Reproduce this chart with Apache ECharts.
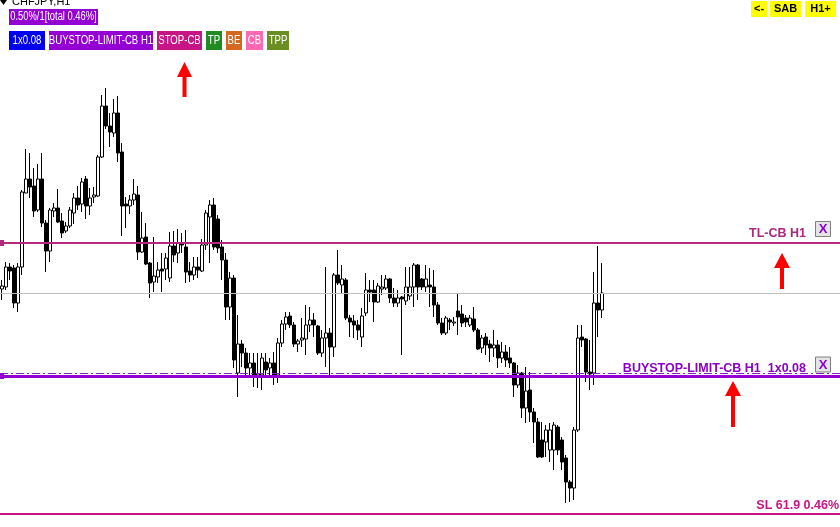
<!DOCTYPE html>
<html><head><meta charset="utf-8">
<script src="https://cdn.jsdelivr.net/npm/echarts@6/dist/echarts.min.js"></script>
<style>html,body{margin:0;padding:0;background:#fff;overflow:hidden}#c{width:840px;height:527px;}</style>
</head><body><div id="c"></div>
<script>
const symbolTitle = 'CHFJPY,H1';
const riskLabel = '0.50%/1[total 0.46%]';
const buttons = [
  {text:'1x0.08', color:'#0000f0'},
  {text:'BUYSTOP-LIMIT-CB H1', color:'#9400d3'},
  {text:'STOP-CB', color:'#c71585'},
  {text:'TP', color:'#228b22'},
  {text:'BE', color:'#d2691e'},
  {text:'CB', color:'#ff69b4'},
  {text:'TPP', color:'#6b8e23'}
];
const navButtons = ['<-', 'SAB', 'H1+'];

const openP = [
163.11,163.13,163.33,163.32,162.97,163.33,164.07,164.21,164.14,163.90,
164.21,163.77,163.49,163.89,163.92,163.79,163.69,163.74,163.87,164.02,
163.96,164.21,163.94,164.03,164.04,164.43,164.94,164.74,164.67,164.87,
164.48,163.96,163.94,164.00,164.05,163.48,163.63,163.37,163.18,163.23,
163.31,163.31,163.22,163.54,163.47,163.57,163.53,163.29,163.25,163.33,
163.29,163.55,163.83,163.95,163.81,163.53,163.40,162.93,163.22,162.27,
162.56,162.47,162.32,162.37,162.23,162.25,162.38,162.32,162.37,162.25,
162.57,162.76,162.84,162.75,162.56,162.60,162.61,162.75,162.80,162.74,
162.47,162.62,162.67,162.53,163.25,163.15,163.20,162.82,162.79,162.75,
162.63,162.87,163.10,163.10,162.98,163.11,163.12,163.21,163.02,162.97,
163.03,162.99,163.04,163.13,163.35,163.21,163.13,163.15,163.13,162.95,
162.77,162.67,162.80,162.77,162.89,162.86,162.82,162.75,162.81,162.70,
162.52,162.63,162.56,162.52,162.55,162.42,162.48,162.42,162.37,162.15,
162.27,161.92,162.10,161.88,161.78,161.60,161.58,161.50,161.50,161.73,
161.60,161.42,161.18,161.12,161.70,162.63,162.61,162.28,162.27,162.97,162.90];
const closeP = [
163.14,163.33,163.29,162.97,163.33,164.08,164.21,164.13,163.89,164.21,
163.77,163.49,163.90,163.92,163.78,163.67,163.74,163.90,164.02,163.95,
164.18,163.94,164.02,164.05,164.43,164.94,164.74,164.68,164.87,164.47,
163.94,163.94,164.00,164.06,163.48,163.62,163.36,163.17,163.24,163.30,
163.29,163.42,163.54,163.45,163.57,163.55,163.28,163.25,163.33,163.30,
163.55,163.87,163.95,163.53,163.52,163.40,162.93,163.22,162.40,162.56,
162.47,162.32,162.37,162.23,162.26,162.42,162.30,162.37,162.25,162.57,
162.76,162.83,162.75,162.56,162.59,162.62,162.75,162.80,162.75,162.47,
162.62,162.67,162.53,163.25,163.17,163.21,162.82,162.78,162.75,162.70,
162.84,163.10,163.08,162.98,163.14,163.13,163.21,163.02,162.97,163.02,
163.01,163.13,163.13,163.35,163.13,163.13,163.21,163.13,162.95,162.77,
162.67,162.82,162.78,162.78,162.83,162.77,162.78,162.82,162.70,162.51,
162.62,162.55,162.52,162.55,162.42,162.48,162.40,162.37,162.15,162.27,
161.92,162.09,161.88,161.78,161.43,161.43,161.70,161.70,161.75,161.50,
161.38,161.18,161.12,161.70,162.62,162.60,162.28,162.26,162.97,162.90,163.07];
const lowP = [
163.00,163.10,163.20,162.92,162.88,163.25,164.07,164.02,163.83,163.88,
163.73,163.28,163.38,163.83,163.77,163.62,163.67,163.72,163.76,163.90,
163.88,163.81,163.85,163.97,164.03,164.42,164.71,164.53,164.63,164.38,
163.64,163.72,163.86,163.95,163.40,163.47,163.35,163.02,163.08,163.17,
163.08,163.20,163.18,163.38,163.37,163.47,163.17,163.18,163.20,163.22,
163.28,163.50,163.37,163.50,163.47,163.20,162.80,162.80,162.32,162.03,
162.33,162.23,162.22,162.13,162.12,162.10,162.23,162.22,162.15,162.17,
162.53,162.70,162.72,162.53,162.48,162.53,162.45,162.68,162.63,162.45,
162.43,162.33,162.25,162.43,163.15,163.07,162.80,162.63,162.62,162.60,
162.53,162.84,162.98,162.78,162.97,163.05,163.10,162.97,162.93,162.93,
162.45,162.95,163.00,162.93,163.00,163.10,163.08,162.93,162.83,162.75,
162.65,162.65,162.70,162.74,162.65,162.73,162.73,162.73,162.68,162.50,
162.47,162.45,162.38,162.43,162.32,162.37,162.33,162.32,162.03,162.12,
161.82,161.77,161.78,161.57,161.42,161.42,161.43,161.38,161.30,161.45,
161.30,160.97,160.98,161.00,161.68,162.53,162.18,162.10,162.15,162.63,162.82];
const highP = [
163.20,163.38,163.37,163.35,163.37,164.10,164.51,164.47,164.32,164.36,
164.47,163.80,163.92,163.97,164.11,163.87,163.78,163.93,164.07,164.14,
164.22,164.24,164.12,164.13,164.45,165.05,165.12,164.87,165.01,165.04,
164.57,164.03,164.05,164.21,164.14,163.88,163.77,163.38,163.63,163.38,
163.47,163.47,163.68,163.69,163.71,163.67,163.70,163.38,163.43,163.43,
163.61,163.90,164.00,164.02,163.85,163.60,163.47,163.28,163.25,162.85,
162.60,162.52,162.47,162.47,162.47,162.47,162.47,162.42,162.48,162.62,
162.80,162.88,162.88,162.78,162.61,162.82,162.95,162.93,162.87,162.75,
162.70,163.33,162.72,163.27,163.50,163.35,163.22,162.85,162.85,162.80,
162.92,163.27,163.20,163.20,163.17,163.25,163.25,163.22,163.12,163.10,
163.04,163.33,163.33,163.37,163.36,163.22,163.35,163.32,163.30,162.98,
162.82,162.84,162.82,162.83,163.07,162.95,162.85,162.85,162.93,162.72,
162.65,162.67,162.60,162.70,162.60,162.58,162.55,162.53,162.38,162.35,
162.28,162.33,162.28,161.92,161.82,161.78,161.75,161.77,161.78,161.75,
161.63,161.45,161.20,161.73,162.75,162.75,162.62,162.60,163.28,163.54,163.37];

const slotCount = 210;
const levelTL = 163.57, levelBid = 163.07, levelPending = 162.27, levelBuyStop = 162.24, levelSL = 160.86;
const priceMin = 160.73, priceMax = 166.00;

const chart = echarts.init(document.getElementById('c'), null, {renderer:'canvas'});
const categories = [];
for (let i = 0; i < slotCount; i++) categories.push('H' + i);

chart.setOption({
  animation:false,
  backgroundColor:'#ffffff',
  grid:{left:0,right:0,top:0,bottom:0},
  xAxis:{type:'category', data:categories, boundaryGap:true, show:false},
  yAxis:{type:'value', min:priceMin, max:priceMax, show:false, splitLine:{show:false}},
  series:[{
    type:'candlestick',
    data: openP.map((o,i)=>[o, closeP[i], lowP[i], highP[i]]),
    barWidth:3,
    itemStyle:{color:'#ffffff', color0:'#000000', borderColor:'#000000', borderColor0:'#000000', borderColorDoji:'#000000', borderWidth:1},
    emphasis:{disabled:true},
    markLine:{silent:true, symbol:['none','none'], animation:false, label:{show:false},
      emphasis:{disabled:true},
      data:[
        {yAxis:levelBid, lineStyle:{color:'#c0c0c0', width:1, type:'solid'}},
        {yAxis:levelTL, lineStyle:{color:'#b4287e', width:2, type:'solid'}},
        {yAxis:levelPending, lineStyle:{color:'#8a1fc4', width:1, type:[8,3,2,3]}},
        {yAxis:levelBuyStop, lineStyle:{color:'#9400d3', width:3, type:'solid'}},
        {yAxis:levelSL, lineStyle:{color:'#c71585', width:2, type:'solid'}}
      ]}
  }]
});

const py = v => chart.convertToPixel({yAxisIndex:0}, v);
const g = [];
function label(x, y, text, fill, font, align, sx){
  g.push({type:'text', x:x, y:y, scaleX:sx||1, z:10,
    style:{text:text, fill:fill, font:font, align:align, textAlign:align, verticalAlign:'middle', textVerticalAlign:'middle'}});
}
function btn(x, y, w, h, bg, text, fg, font, sx){
  g.push({type:'rect', shape:{x:x,y:y,width:w,height:h}, style:{fill:bg}, z:9});
  label(x + w/2, y + h/2, text, fg, font, 'center', sx);
}
function arrow(cx, tipY, baseY, bottomY, headW, shaftW){
  g.push({type:'polygon', shape:{points:[[cx,tipY],[cx+headW/2,baseY],[cx-headW/2,baseY]]}, style:{fill:'#ff0000'}, z:9});
  g.push({type:'rect', shape:{x:cx-shaftW/2, y:baseY-1, width:shaftW, height:bottomY-baseY+1}, style:{fill:'#ff0000'}, z:9});
}
function xbox(x, y){
  g.push({type:'rect', shape:{x:x+0.5,y:y+0.5,width:15,height:15}, style:{fill:'#e4e4e4', stroke:'#808080', lineWidth:1}, z:9});
  label(x + 8, y + 8.5, 'X', '#8a00c8', 'bold 13px "Liberation Sans", Arial, sans-serif', 'center');
}

// header
g.push({type:'polygon', shape:{points:[[0,0],[7,0],[3.5,5]]}, style:{fill:'#000'}, z:9});
label(12, 1.5, symbolTitle, '#000000', '11px "Liberation Sans", Arial, sans-serif', 'left');
btn(9, 9, 89, 16, '#9400d3', riskLabel, '#ffffff', '12px "Liberation Sans", Arial, sans-serif', 0.78);
const bx = [[9,36],[49,104],[157,45],[206,16],[226,16],[246,17],[267,22]];
buttons.forEach((b,i)=>btn(bx[i][0], 31, bx[i][1], 19, b.color, b.text, '#ffffff', '12px "Liberation Sans", Arial, sans-serif', 0.8));
// nav buttons
const nx = [[751,16],[770,31],[805,31]];
navButtons.forEach((t,i)=>btn(nx[i][0], 1, nx[i][1], 16, '#ffff00', t, '#000000', 'bold 11px "Liberation Sans", Arial, sans-serif', 1));

// line anchors
const yTL = py(levelTL), yBS = py(levelBuyStop), ySL = py(levelSL);
g.push({type:'rect', shape:{x:0,y:yTL-3,width:4,height:6}, style:{fill:'#b4287e'}, z:9});
g.push({type:'rect', shape:{x:0,y:yBS-3,width:4,height:6}, style:{fill:'#9400d3'}, z:9});

// line labels
label(806, yTL - 9.5, 'TL-CB H1', '#a8287e', 'bold 12.5px "Liberation Sans", Arial, sans-serif', 'right');
xbox(815, yTL - 22);
label(806, yBS - 7, 'BUYSTOP-LIMIT-CB H1  1x0.08', '#8a00c8', 'bold 12.5px "Liberation Sans", Arial, sans-serif', 'right');
xbox(815, yBS - 19.5);
label(839, ySL - 8.5, 'SL 61.9 0.46%', '#c71585', 'bold 12.5px "Liberation Sans", Arial, sans-serif', 'right');

// red arrows
arrow(184.5, 62, 77, 97, 15, 4);
arrow(782, 253, 268, 289, 16, 4);
arrow(733, 381, 396, 427, 16, 4);

chart.setOption({graphic:{elements:g}});
</script>
</body></html>
